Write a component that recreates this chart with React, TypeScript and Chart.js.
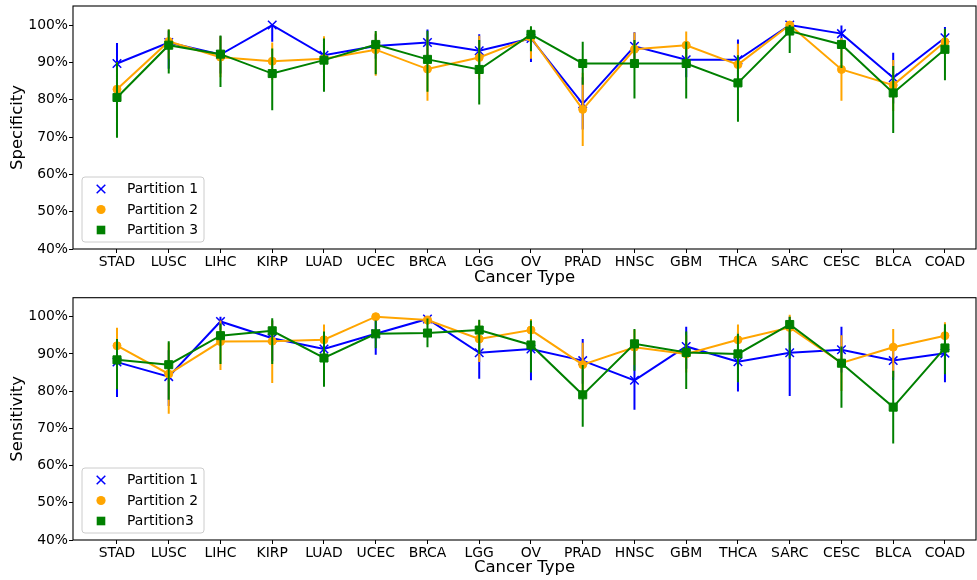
import React, { useEffect, useRef } from 'react';
import { Chart, registerables } from 'chart.js';

Chart.register(...registerables);

const categories = ['STAD', 'LUSC', 'LIHC', 'KIRP', 'LUAD', 'UCEC', 'BRCA', 'LGG', 'OV', 'PRAD', 'HNSC', 'GBM', 'THCA', 'SARC', 'CESC', 'BLCA', 'COAD'];
const yTicks = [40, 50, 60, 70, 80, 90, 100];

// Specificity (top panel)
const specP1 = [89.7, 95.3, 92.1, 100, 91.9, 94.4, 95.3, 93.1, 96.4, 78.9, 94.3, 90.7, 90.7, 100, 97.7, 85.9, 96.6];
const specP1Low = [84.2, 88.3, 87.0, 95.5, 87.2, 91.0, 91.8, 88.5, 90.1, 72.0, 90.5, 86.0, 85.5, 100, 95.5, 79.0, 93.0];
const specP1High = [95.2, 98.5, 97.0, 100, 96.6, 97.5, 98.8, 97.5, 99.0, 86.0, 98.1, 95.0, 96.1, 100, 99.9, 92.6, 99.5];
const specP2 = [82.8, 95.6, 91.4, 90.3, 91.0, 93.4, 88.2, 91.3, 96.7, 77.4, 93.5, 94.6, 89.4, 100, 88.1, 83.9, 95.5];
const specP2Low = [75.0, 91.0, 86.0, 85.3, 85.0, 86.4, 79.7, 85.5, 91.0, 67.6, 89.0, 90.9, 83.5, 99.0, 79.7, 77.0, 92.0];
const specP2High = [90.0, 98.8, 97.0, 95.3, 97.0, 98.0, 96.7, 97.1, 99.5, 87.2, 98.0, 98.3, 95.0, 100.5, 96.5, 90.6, 98.4];
const specP3 = [80.6, 94.6, 92.2, 87.0, 90.6, 94.8, 90.8, 88.1, 97.5, 89.7, 89.7, 89.7, 84.5, 98.4, 94.8, 81.8, 93.5];
const specP3Low = [69.8, 87.0, 83.4, 77.2, 82.1, 86.8, 82.1, 78.7, 93.0, 84.0, 80.3, 80.3, 74.1, 92.5, 88.5, 71.1, 85.2];
const specP3High = [90.0, 98.8, 97.2, 93.7, 96.4, 98.4, 98.5, 96.0, 99.7, 95.5, 96.0, 95.5, 91.9, 100, 95.5, 89.0, 99.0];

// Sensitivity (bottom panel)
const sensP1 = [87.8, 83.9, 98.7, 94.2, 91.3, 95.4, 99.4, 90.3, 91.3, 88.2, 82.9, 92.0, 87.9, 90.3, 91.1, 88.2, 90.2];
const sensP1Low = [78.4, 76.0, 96.5, 88.0, 84.0, 89.8, 98.0, 83.3, 82.9, 82.0, 75.0, 86.0, 79.9, 78.7, 85.0, 83.0, 82.4];
const sensP1High = [93.0, 91.0, 100, 99.0, 97.0, 100, 100, 97.0, 99.0, 94.0, 90.8, 97.3, 96.0, 100, 97.3, 93.0, 97.0];
const sensP2 = [92.2, 84.6, 93.3, 93.4, 93.8, 100, 99.1, 94.0, 96.4, 87.1, 91.8, 90.0, 93.8, 97.1, 87.6, 91.8, 94.9];
const sensP2Low = [87.0, 73.9, 85.7, 82.2, 87.0, 100, 97.8, 87.8, 93.0, 80.0, 87.0, 85.0, 89.7, 93.0, 80.0, 83.7, 91.0];
const sensP2High = [97.0, 93.0, 99.0, 99.0, 97.9, 100, 100, 99.0, 99.4, 93.0, 96.5, 95.0, 97.9, 100.5, 95.0, 96.7, 98.5];
const sensP3 = [88.4, 87.1, 94.9, 96.2, 88.9, 95.4, 95.6, 96.4, 92.4, 79.0, 92.7, 90.4, 90.0, 97.9, 87.5, 75.7, 91.6];
const sensP3Low = [80.5, 77.7, 87.3, 87.3, 81.2, 91.5, 91.8, 90.0, 85.0, 70.4, 85.5, 80.6, 82.4, 88.7, 75.5, 65.9, 84.5];
const sensP3High = [94.0, 93.4, 98.2, 99.6, 96.0, 99.0, 99.5, 99.2, 99.0, 87.0, 96.7, 96.0, 95.4, 100, 92.0, 85.5, 98.0];

const BLUE = '#0000ff';
const ORANGE = '#ffa500';
const GREEN = '#008000';
const FONT = "'DejaVu Sans', sans-serif";

const errorBarPlugin = {
  id: 'errorBars',
  beforeDatasetDraw(chart: any, args: any) {
    const ds: any = chart.data.datasets[args.index];
    const lo = ds.errLow;
    const hi = ds.errHigh;
    if (!lo || !hi) return;
    const { ctx, chartArea, scales } = chart;
    ctx.save();
    ctx.beginPath();
    ctx.rect(chartArea.left, chartArea.top, chartArea.right - chartArea.left, chartArea.bottom - chartArea.top);
    ctx.clip();
    ctx.strokeStyle = ds.borderColor;
    ctx.lineWidth = 2;
    ctx.beginPath();
    for (let i = 0; i < lo.length; i++) {
      const x = scales.x.getPixelForValue(i);
      ctx.moveTo(x, scales.y.getPixelForValue(lo[i]));
      ctx.lineTo(x, scales.y.getPixelForValue(hi[i]));
    }
    ctx.stroke();
    ctx.restore();
  },
};

const frameLegendPlugin = {
  id: 'frameLegend',
  afterDraw(chart: any) {
    const { ctx, chartArea } = chart;
    ctx.save();
    ctx.strokeStyle = '#000';
    ctx.lineWidth = 1.1;
    ctx.strokeRect(chartArea.left, chartArea.top, chartArea.right - chartArea.left, chartArea.bottom - chartArea.top);

    const bx = chartArea.left + 9;
    const bw = 122;
    const bh = 65;
    const by = chartArea.bottom - 7 - bh;
    const r = 3;
    ctx.beginPath();
    ctx.moveTo(bx + r, by);
    ctx.lineTo(bx + bw - r, by);
    ctx.quadraticCurveTo(bx + bw, by, bx + bw, by + r);
    ctx.lineTo(bx + bw, by + bh - r);
    ctx.quadraticCurveTo(bx + bw, by + bh, bx + bw - r, by + bh);
    ctx.lineTo(bx + r, by + bh);
    ctx.quadraticCurveTo(bx, by + bh, bx, by + bh - r);
    ctx.lineTo(bx, by + r);
    ctx.quadraticCurveTo(bx, by, bx + r, by);
    ctx.closePath();
    ctx.fillStyle = 'rgba(255,255,255,0.8)';
    ctx.fill();
    ctx.strokeStyle = '#cccccc';
    ctx.lineWidth = 1;
    ctx.stroke();

    const datasets = chart.data.datasets;
    ctx.font = `13.9px ${FONT}`;
    ctx.textBaseline = 'middle';
    ctx.textAlign = 'left';
    datasets.forEach((ds: any, i: number) => {
      const cy = by + 12 + i * 20.5;
      const mx = bx + 19;
      if (ds.pointStyle === 'crossRot') {
        ctx.strokeStyle = ds.borderColor;
        ctx.lineWidth = 1.5;
        ctx.beginPath();
        ctx.moveTo(mx - 4.3, cy - 4.3);
        ctx.lineTo(mx + 4.3, cy + 4.3);
        ctx.moveTo(mx + 4.3, cy - 4.3);
        ctx.lineTo(mx - 4.3, cy + 4.3);
        ctx.stroke();
      } else if (ds.pointStyle === 'circle') {
        ctx.fillStyle = ds.borderColor;
        ctx.beginPath();
        ctx.arc(mx, cy, 4.6, 0, Math.PI * 2);
        ctx.fill();
      } else {
        ctx.fillStyle = ds.borderColor;
        ctx.fillRect(mx - 4.3, cy - 4.3, 8.6, 8.6);
      }
      ctx.fillStyle = '#000';
      ctx.fillText(ds.label, bx + 45, cy + 0.5);
    });
    ctx.restore();
  },
};

function makeDataset(label: string, values: number[], low: number[], high: number[], color: string, style: string, order: number) {
  const radius = style === 'circle' ? 4 : style === 'rect' ? 5.7 : 6;
  return {
    label,
    data: values.map((v, i) => ({ x: i, y: v })),
    errLow: low,
    errHigh: high,
    borderColor: color,
    backgroundColor: color,
    borderWidth: 2,
    pointStyle: style,
    pointRadius: radius,
    pointBorderWidth: style === 'crossRot' ? 1.5 : 1,
    pointBackgroundColor: color,
    pointBorderColor: color,
    tension: 0,
    fill: false,
    order,
  };
}

function makeConfig(yTitle: string, datasets: any[], padTop: number, xHeight: number): any {
  return {
    type: 'line',
    data: { datasets },
    plugins: [errorBarPlugin, frameLegendPlugin],
    options: {
      responsive: false,
      animation: false,
      events: [],
      layout: { autoPadding: false, padding: { left: 0, right: 1, top: padTop, bottom: 0 } },
      plugins: { legend: { display: false }, tooltip: { enabled: false } },
      scales: {
        x: {
          type: 'linear',
          min: -0.85,
          max: 16.6,
          afterBuildTicks: (scale: any) => {
            scale.ticks = categories.map((_, i) => ({ value: i }));
          },
          afterFit: (scale: any) => {
            scale.height = xHeight;
            scale.paddingLeft = 0;
            scale.paddingRight = 0;
          },
          ticks: {
            autoSkip: false,
            maxRotation: 0,
            minRotation: 0,
            padding: 1,
            color: '#000',
            font: { family: FONT, size: 13.9 },
            callback: (v: any) => categories[Math.round(v)] ?? '',
          },
          grid: { display: true, drawOnChartArea: false, drawTicks: true, tickLength: 4, color: '#000', lineWidth: 1 },
          border: { display: false },
          title: {
            display: true,
            text: 'Cancer Type',
            color: '#000',
            font: { family: FONT, size: 16.5 },
            padding: { top: 0, bottom: 2 },
          },
        },
        y: {
          type: 'linear',
          min: 40,
          max: 105.1,
          afterBuildTicks: (scale: any) => {
            scale.ticks = yTicks.map((v) => ({ value: v }));
          },
          afterFit: (scale: any) => {
            scale.width = 73;
            scale.paddingTop = 0;
            scale.paddingBottom = 0;
          },
          ticks: {
            padding: 1,
            color: '#000',
            font: { family: FONT, size: 13.9 },
            callback: (v: any) => `${v}%`,
          },
          grid: { display: true, drawOnChartArea: false, drawTicks: true, tickLength: 4, color: '#000', lineWidth: 1 },
          border: { display: false },
          title: {
            display: true,
            text: yTitle,
            color: '#000',
            font: { family: FONT, size: 16.5 },
            padding: { top: 8, bottom: 0 },
          },
        },
      },
    },
  };
}

export default function App() {
  const topRef = useRef<HTMLCanvasElement | null>(null);
  const bottomRef = useRef<HTMLCanvasElement | null>(null);

  useEffect(() => {
    const top = new Chart(
      topRef.current as HTMLCanvasElement,
      makeConfig(
        'Specificity',
        [
          makeDataset('Partition 1', specP1, specP1Low, specP1High, BLUE, 'crossRot', 2),
          makeDataset('Partition 2', specP2, specP2Low, specP2High, ORANGE, 'circle', 1),
          makeDataset('Partition 3', specP3, specP3Low, specP3High, GREEN, 'rect', 0),
        ],
        6,
        41
      )
    );
    const bottom = new Chart(
      bottomRef.current as HTMLCanvasElement,
      makeConfig(
        'Sensitivity',
        [
          makeDataset('Partition 1', sensP1, sensP1Low, sensP1High, BLUE, 'crossRot', 2),
          makeDataset('Partition 2', sensP2, sensP2Low, sensP2High, ORANGE, 'circle', 1),
          makeDataset('Partition3', sensP3, sensP3Low, sensP3High, GREEN, 'rect', 0),
        ],
        7.7,
        40
      )
    );
    return () => {
      top.destroy();
      bottom.destroy();
    };
  }, []);

  return (
    <div style={{ position: 'absolute', left: 0, top: 0, width: 977, height: 580, background: '#fff' }}>
      <canvas ref={topRef} width={977} height={290} style={{ position: 'absolute', left: 0, top: 0 }} />
      <canvas ref={bottomRef} width={977} height={290} style={{ position: 'absolute', left: 0, top: 290 }} />
    </div>
  );
}
